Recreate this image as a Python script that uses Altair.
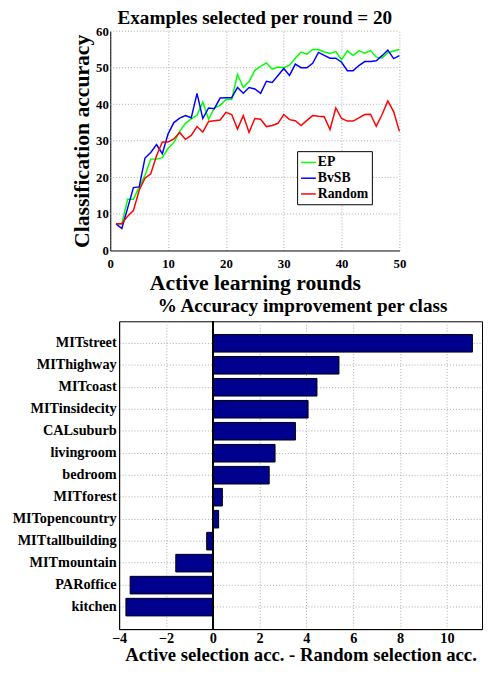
import altair as alt
import pandas as pd

FONT = "Liberation Serif"

# ---------------- data: top chart ----------------
rounds = list(range(1, 51))
ep = [7.3, 7.3, 14, 14, 17.4, 20.5, 25, 25, 25.4, 28, 29.5, 32.6, 34.8, 36, 37, 40.6, 35.9, 39, 39.7, 41.3,
      41.3, 48.2, 44.6, 46.2, 49.3, 50.4, 51.3, 49.6, 50.2, 50.0, 50.7, 52.6, 54.3, 53.7, 55, 55, 54.3, 53.9, 54.4, 52.2,
      54.6, 53.4, 54.6, 54, 54.7, 52.9, 52.7, 54.1, 54.6, 55]
bvsb = [7.3, 6, 11.6, 17.2, 17.4, 25.3, 26.8, 29, 26.5, 31.9, 35, 36.2, 36.9, 36.3, 43, 36.1, 39, 38.8, 41.7, 41.8,
        41.8, 44.6, 43, 44.6, 44.2, 43, 46.3, 46, 47.9, 49.8, 47.9, 51, 50, 50, 51.2, 54.2, 53.4, 52.6, 52.6, 51.5,
        49.2, 49.2, 50.6, 51.7, 51.7, 51.9, 53.3, 54.8, 52.5, 53.3]
rand = [7.3, 7.3, 9.4, 10.9, 16.5, 19.8, 21, 25.9, 29.7, 29.7, 30.5, 32.3, 30.4, 31.5, 33.9, 32.4, 35.3, 35.5, 35.7, 37.8,
        37.2, 33.2, 36.9, 32.3, 36.1, 35.9, 33.9, 34.2, 34.8, 37.2, 35.8, 35.5, 34.2, 35.6, 36.9, 36.7, 36.6, 33.1, 39, 36.1,
        35.4, 35.4, 36.3, 37.2, 37.3, 34, 37.2, 40.9, 38, 32.6]
series_names = ["EP", "BvSB", "Random"]
series_colors = ["#00FF00", "#0000FF", "#FF0000"]
x_ticks_top = [0, 10, 20, 30, 40, 50]
y_ticks_top = [0, 10, 20, 30, 40, 50, 60]

# ---------------- data: bottom chart ----------------
classes = ["MITstreet", "MIThighway", "MITcoast", "MITinsidecity", "CALsuburb", "livingroom", "bedroom",
           "MITforest", "MITopencountry", "MITtallbuilding", "MITmountain", "PARoffice", "kitchen"]
improvement = [11.09, 5.39, 4.45, 4.07, 3.53, 2.66, 2.41, 0.41, 0.25, -0.26, -1.58, -3.53, -3.71]
x_ticks_bottom = [-4, -2, 0, 2, 4, 6, 8, 10]

# ---------------- top chart ----------------
long_df = pd.DataFrame({
    "round": rounds * 3,
    "acc": ep + bvsb + rand,
    "method": ["EP"] * 50 + ["BvSB"] * 50 + ["Random"] * 50,
})
grid_df = pd.DataFrame({"acc": y_ticks_top[1:]})

TOP_W = 285
SHIFT = 9
GRID = dict(gridColor="#a8a8a8", gridDash=[1, 2], gridWidth=1)

xscale_top = alt.Scale(domain=[0, 50], range=[-SHIFT, TOP_W], nice=False)
yscale_top = alt.Scale(domain=[0, 60], nice=False)

x_axis_top = alt.Axis(values=x_ticks_top, title="Active learning rounds", grid=True, ticks=False, tickSize=0,
                      domainColor="black", domainWidth=1, labelFont=FONT, labelFontWeight="bold",
                      labelFontSize=13, labelColor="black", labelPadding=7, titleFont=FONT,
                      titleFontWeight="bold", titleFontSize=22, titleColor="black", titlePadding=3,
                      labelFlush=False, **GRID)
y_axis_top = alt.Axis(values=y_ticks_top, title="Classification accuracy", grid=False, ticks=False, tickSize=0,
                      offset=SHIFT, domainColor="black", domainWidth=1, labelFont=FONT, labelFontWeight="bold",
                      labelFontSize=13, labelColor="black", labelPadding=2, titleFont=FONT,
                      titleFontWeight="bold", titleFontSize=22, titleColor="black", titlePadding=2,
                      labelFlush=False)

ygrid = alt.Chart(grid_df).mark_rule(color="#a8a8a8", strokeDash=[1, 2], strokeWidth=1).encode(
    y=alt.Y("acc:Q", scale=yscale_top, axis=y_axis_top),
    x=alt.XDatum(0, scale=xscale_top),
    x2=alt.X2Datum(50),
)

lines = alt.Chart(long_df).mark_line(strokeWidth=1.5).encode(
    x=alt.X("round:Q", scale=xscale_top, axis=x_axis_top),
    y=alt.Y("acc:Q", scale=yscale_top, axis=y_axis_top),
    color=alt.Color("method:N", scale=alt.Scale(domain=series_names, range=series_colors),
                    legend=alt.Legend(title=None, orient="none", legendX=181, legendY=122,
                                      symbolType="stroke", symbolSize=225, symbolStrokeWidth=1.5,
                                      labelFont=FONT, labelFontWeight="bold", labelFontSize=14,
                                      labelColor="black", strokeColor="black", fillColor="white",
                                      padding=3, rowPadding=0, labelOffset=1)),
)

top = alt.layer(ygrid, lines).properties(
    width=TOP_W, height=223,
    title=alt.TitleParams("Examples selected per round = 20", font=FONT, fontWeight="bold", fontSize=19.5,
                          color="black", anchor="middle", dx=-4.5, offset=-3),
    view=alt.ViewBackground(stroke=None),
)

# ---------------- bottom chart ----------------
bars_df = pd.DataFrame({"cls": classes, "imp": improvement})
xscale_b = alt.Scale(domain=[-4, 11.5], nice=False, zero=False)
yscale_b = alt.Scale(domain=classes, paddingInner=0.2, paddingOuter=0.6)

bars = alt.Chart(bars_df).mark_bar(color="#00008F", stroke="black", strokeWidth=1).encode(
    x=alt.X("imp:Q", scale=xscale_b,
            axis=alt.Axis(values=x_ticks_bottom, title="Active selection acc. - Random selection acc.",
                          grid=True, ticks=False, tickSize=0, domainColor="black", labelFont=FONT,
                          labelFontWeight="bold", labelFontSize=14.5, labelColor="black", labelPadding=3,
                          titleFont=FONT, titleFontWeight="bold", titleFontSize=19, titleColor="black",
                          titlePadding=0, labelFlush=False, **GRID)),
    y=alt.Y("cls:N", scale=yscale_b, sort=classes,
            axis=alt.Axis(title=None, grid=True, ticks=False, tickSize=0, domainColor="black",
                          labelFont=FONT, labelFontWeight="bold", labelFontSize=14.5, labelColor="black",
                          labelPadding=3, **GRID)),
)
zero = alt.Chart(bars_df).mark_rule(color="black", strokeWidth=1).encode(x=alt.XDatum(0))

bottom = alt.layer(bars, zero).properties(
    width=369, height=313,
    title=alt.TitleParams("% Accuracy improvement per class", font=FONT, fontWeight="bold", fontSize=19.5,
                          color="black", anchor="middle", dx=2, offset=4),
    view=alt.ViewBackground(stroke="black", strokeWidth=1),
)

chart = alt.vconcat(top, bottom, spacing=2).properties(
    padding={"left": 3, "top": -6, "right": 0, "bottom": 0},
    background="white",
)

chart.save("out.html", embed_options={"renderer": "svg", "actions": False})
